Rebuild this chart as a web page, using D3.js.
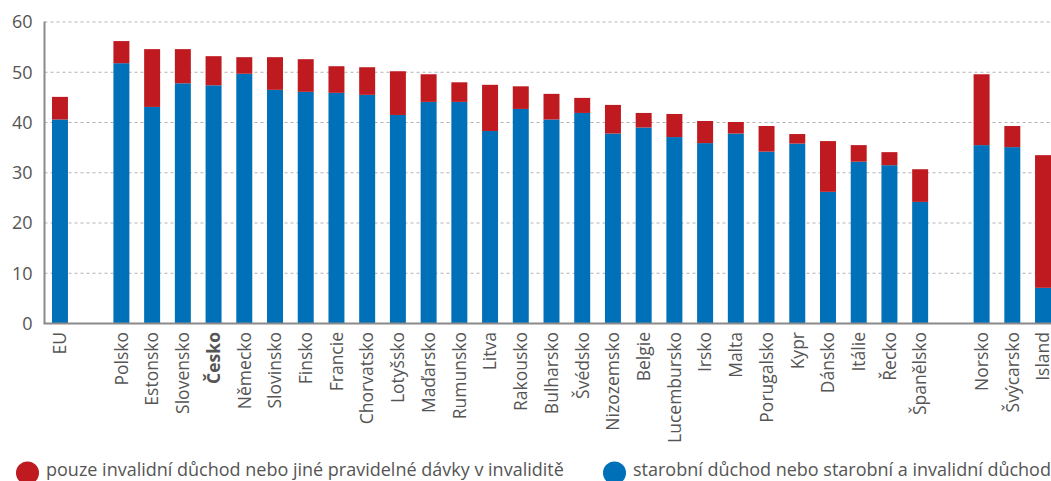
<!DOCTYPE html>
<html>
<head>
<meta charset="utf-8">
<script src="https://cdn.jsdelivr.net/npm/d3@7/dist/d3.min.js"></script>
<style>
  html, body { margin: 0; padding: 0; background: #fff; }
  svg { display: block; }
  text { font-family: "Open Sans", "Noto Sans", sans-serif; }
</style>
</head>
<body>
<svg id="chart" width="1051" height="481"></svg>
<script>
// Categories ("" = empty slot)
const categories = ["EU", "", "Polsko", "Estonsko", "Slovensko", "Česko", "Německo", "Slovinsko",
  "Finsko", "Francie", "Chorvatsko", "Lotyšsko", "Maďarsko", "Rumunsko", "Litva", "Rakousko",
  "Bulharsko", "Švédsko", "Nizozemsko", "Belgie", "Lucembursko", "Irsko", "Malta", "Porugalsko",
  "Kypr", "Dánsko", "Itálie", "Řecko", "Španělsko", "", "Norsko", "Švýcarsko", "Island"];

// starobní důchod nebo starobní a invalidní důchod (blue)
const oldAge = [40.6, null, 51.8, 43.1, 47.8, 47.4, 49.7, 46.5,
  46.1, 45.9, 45.5, 41.5, 44.1, 44.1, 38.3, 42.7,
  40.6, 41.9, 37.8, 39.0, 37.1, 35.9, 37.8, 34.2,
  35.8, 26.2, 32.2, 31.5, 24.2, null, 35.5, 35.1, 7.1];

// pouze invalidní důchod nebo jiné pravidelné dávky v invaliditě (red)
const disabilityOnly = [4.5, null, 4.4, 11.5, 6.8, 5.8, 3.3, 6.5,
  6.5, 5.3, 5.5, 8.7, 5.5, 3.9, 9.2, 4.5,
  5.1, 3.0, 5.7, 2.9, 4.6, 4.4, 2.3, 5.1,
  1.9, 10.1, 3.3, 2.6, 6.5, null, 14.1, 4.2, 26.4];

const yTicks = [0, 10, 20, 30, 40, 50, 60];
const boldCategory = "Česko";

const seriesNames = ["pouze invalidní důchod nebo jiné pravidelné dávky v invaliditě",
                     "starobní důchod nebo starobní a invalidní důchod"];
const colors = { red: "#be1a20", blue: "#0070b8" };

const svg = d3.select("#chart");
const plotLeft = 44.5, plotTop = 22, plotBottom = 323.5;

const x = d3.scaleBand()
  .domain(d3.range(categories.length))
  .range([44.6, 1058.4])
  .paddingInner(0.48)
  .paddingOuter(0.24);

const y = d3.scaleLinear().domain([0, 60]).range([plotBottom, plotTop]);

// grid
svg.append("g").selectAll("line")
  .data(yTicks.filter(t => t > 0))
  .join("line")
  .attr("x1", plotLeft).attr("x2", 1051)
  .attr("y1", d => y(d)).attr("y2", d => y(d))
  .attr("stroke", "#b3b3b3").attr("stroke-width", 1)
  .attr("stroke-dasharray", "3,3");

const rows = categories.map((c, i) => ({ i, c, blue: oldAge[i], red: disabilityOnly[i] }))
  .filter(d => d.blue != null);

// blue bars
svg.append("g").selectAll("rect")
  .data(rows).join("rect")
  .attr("x", d => x(d.i)).attr("width", x.bandwidth())
  .attr("y", d => y(d.blue)).attr("height", d => y(0) - y(d.blue))
  .attr("fill", colors.blue);

// red bars
svg.append("g").selectAll("rect")
  .data(rows).join("rect")
  .attr("x", d => x(d.i)).attr("width", x.bandwidth())
  .attr("y", d => y(d.blue + d.red)).attr("height", d => y(d.blue) - y(d.blue + d.red))
  .attr("fill", colors.red);

// y axis
const yAxis = svg.append("g")
  .attr("transform", `translate(${plotLeft},0)`)
  .call(d3.axisLeft(y).tickValues(yTicks).tickSize(0).tickPadding(12));
yAxis.select(".domain").attr("stroke", "#8a8a8a").attr("stroke-width", 2)
  .attr("d", `M0,${plotTop - 0.5}V${plotBottom}`);
yAxis.selectAll("text").attr("font-size", 18).attr("fill", "#555")
  .attr("font-family", "'Open Sans', sans-serif");

// x axis baseline
svg.append("line")
  .attr("x1", plotLeft - 1).attr("x2", 1051)
  .attr("y1", plotBottom).attr("y2", plotBottom)
  .attr("stroke", "#8a8a8a").attr("stroke-width", 2);

// x labels
svg.append("g").selectAll("text")
  .data(categories.map((c, i) => ({ c, i })).filter(d => d.c !== ""))
  .join("text")
  .attr("transform", d => `translate(${x(d.i) + x.bandwidth() / 2},332) rotate(-90)`)
  .attr("text-anchor", "end")
  .attr("dy", "0.36em")
  .attr("font-size", 17.5)
  .attr("font-weight", d => d.c === boldCategory ? "bold" : "normal")
  .attr("fill", "#555")
  .text(d => d.c);

// legend
const legend = [
  { name: seriesNames[0], color: colors.red, cx: 27.5, tx: 46 },
  { name: seriesNames[1], color: colors.blue, cx: 614.5, tx: 633 }
];
const lg = svg.append("g").selectAll("g").data(legend).join("g");
lg.append("circle").attr("cx", d => d.cx).attr("cy", 473).attr("r", 11.5).attr("fill", d => d.color);
lg.append("text").attr("x", d => d.tx).attr("y", 476)
  .attr("font-size", 18).attr("fill", "#555").text(d => d.name);
</script>
</body>
</html>
